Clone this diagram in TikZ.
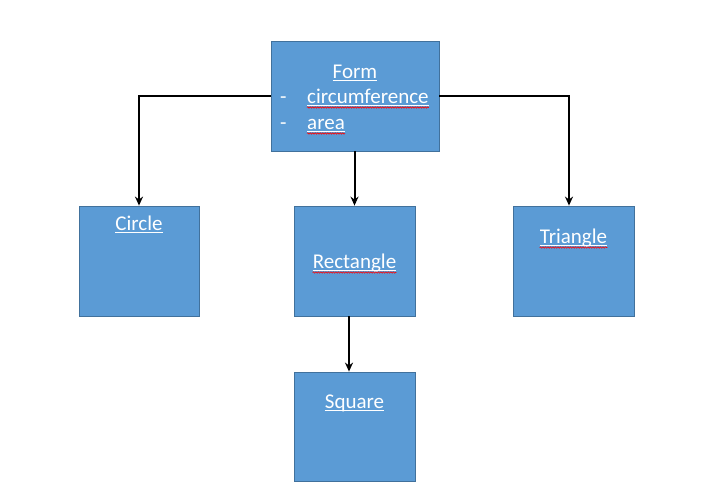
\documentclass[tikz,border=0pt]{standalone}
\usepackage{fontspec}
\setmainfont{Carlito}
\usetikzlibrary{arrows.meta,decorations.pathmorphing}
\definecolor{boxfill}{HTML}{5B9BD5}
\definecolor{boxline}{HTML}{41719C}
\tikzset{
  box/.style={draw=boxline, fill=boxfill, line width=0.8pt, rectangle, inner sep=0pt},
  lbl/.style={text=white, font=\fontsize{21}{25}\selectfont, inner sep=0pt, anchor=base},
  arr/.style={draw=black, line width=2pt, -{Stealth[length=9pt,width=8pt]}},
  uline/.style={draw=white, line width=1pt},
  spell/.style={draw=red, line width=0.6pt, decorate, decoration={snake, amplitude=0.7pt, segment length=2.5pt}}
}
\begin{document}
\begin{tikzpicture}[x=1pt,y=-1pt]
\useasboundingbox[fill=white] (0,0) rectangle (713,493);
\node[box, minimum width=168pt, minimum height=110pt] (form) at (355,96) {};
\node[box, minimum width=120pt, minimum height=110pt] (circle) at (139,261) {};
\node[box, minimum width=121pt, minimum height=110pt] (rect) at (354.5,261) {};
\node[box, minimum width=121pt, minimum height=110pt] (tri) at (573.5,261) {};
\node[box, minimum width=121pt, minimum height=109pt] (square) at (354.5,426.5) {};

\node[lbl] (tform) at (355,78) {Form};
\node[lbl, anchor=base west] (tdash1) at (280,103) {-};
\node[lbl, anchor=base west] (tcirc) at (307,103) {circumference};
\node[lbl, anchor=base west] (tdash2) at (280,129) {-};
\node[lbl, anchor=base west] (tarea) at (307,129) {area};
\node[lbl] (tcircle) at (139,230) {Circle};
\node[lbl] (trect) at (354.5,268) {Rectangle};
\node[lbl] (ttri) at (573.5,243) {Triangle};
\node[lbl] (tsquare) at (354.5,408) {Square};

\foreach \t in {tform,tcirc,tarea,tcircle,trect,ttri,tsquare}{
  \draw[uline] ([yshift=-2.5pt]\t.base west) -- ([yshift=-2.5pt]\t.base east);
}
\foreach \t in {tcirc,tarea,trect,ttri}{
  \draw[spell] ([yshift=-4.5pt]\t.base west) -- ([yshift=-4.5pt]\t.base east);
}

\draw[arr] (form.west) -| (circle.north);
\draw[arr] (form.east) -| ([xshift=-4.5pt]tri.north);
\draw[arr] (rect.north |- form.south) -- (rect.north);
\draw[arr] ([xshift=-5.5pt]rect.south) -- ([xshift=-5.5pt]square.north);
\end{tikzpicture}
\end{document}
